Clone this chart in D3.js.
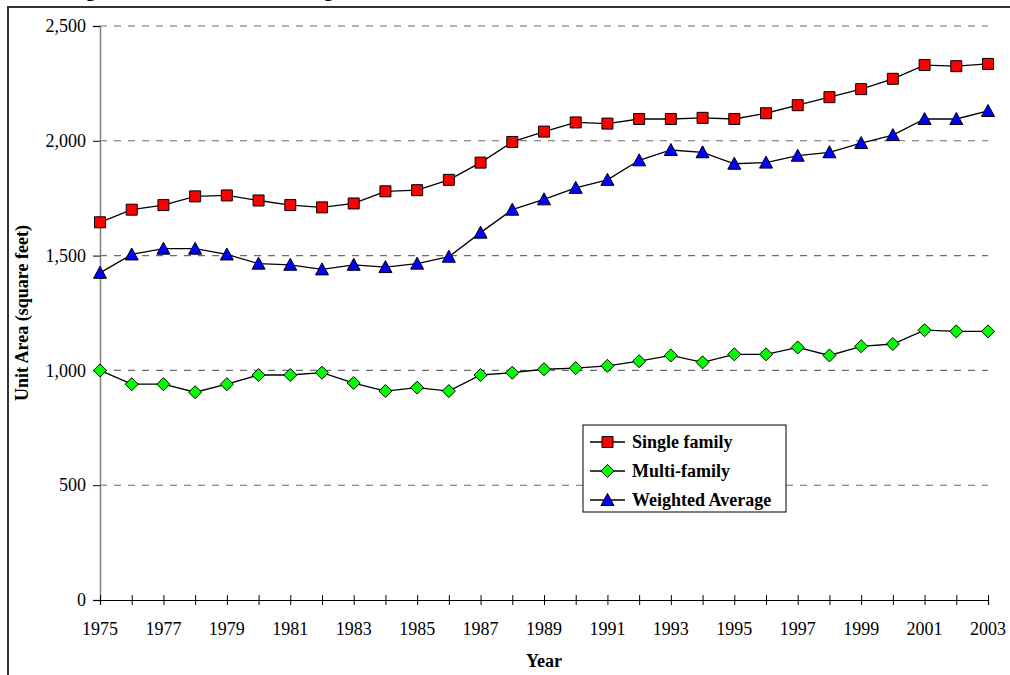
<!DOCTYPE html>
<html>
<head>
<meta charset="utf-8">
<script src="https://cdn.jsdelivr.net/npm/d3@7"></script>
<style>
  body { margin: 0; background: #fff; }
  svg { display: block; }
  svg text { font-family: "Liberation Serif", "Times New Roman", Times, serif; }
</style>
</head>
<body>
<svg id="chart" width="1010" height="675"></svg>
<script>
// Values
const years = d3.range(1975, 2004);
const singleFamily = [1645, 1700, 1720, 1758, 1762, 1740, 1720, 1710, 1727, 1780, 1785, 1830, 1905, 1995, 2040,
  2080, 2075, 2095, 2095, 2100, 2095, 2120, 2155, 2190, 2225, 2270, 2330, 2325, 2335];
const multiFamily = [1000, 940, 940, 905, 940, 980, 980, 990, 945, 910, 925, 910, 980, 990, 1005,
  1010, 1020, 1040, 1065, 1035, 1070, 1070, 1100, 1065, 1105, 1115, 1175, 1170, 1170];
const weightedAvg = [1425, 1505, 1530, 1530, 1505, 1465, 1460, 1440, 1460, 1450, 1465, 1495, 1600, 1700, 1745,
  1795, 1830, 1915, 1960, 1950, 1900, 1905, 1935, 1950, 1990, 2025, 2095, 2095, 2130];
const yTicks = [0, 500, 1000, 1500, 2000, 2500];
const xLabelYears = years.filter(y => (y - 1975) % 2 === 0);

const seriesNames = ['Single family', 'Multi-family', 'Weighted Average'];
const seriesColors = ['#ff0000', '#00ff00', '#0000ff'];
const seriesShapes = ['square', 'diamond', 'triangle'];

const svg = d3.select('#chart');
const x = d3.scaleLinear().domain([1975, 2003]).range([100, 988]);
const y = d3.scaleLinear().domain([0, 2500]).range([600, 26]);

// marker outlines, centred on 0,0
function markerPath(shape) {
  const p = d3.path();
  if (shape === 'square') {
    p.rect(-5.5, -5.5, 11, 11);
  } else if (shape === 'diamond') {
    p.moveTo(0, -6.5); p.lineTo(6.5, 0); p.lineTo(0, 6.5); p.lineTo(-6.5, 0); p.closePath();
  } else {
    p.moveTo(0, -6.5); p.lineTo(6.5, 5.5); p.lineTo(-6.5, 5.5); p.closePath();
  }
  return p.toString();
}

// outer chart frame (runs off the right and bottom edges)
svg.append('rect')
  .attr('x', 8).attr('y', 7)
  .attr('width', 1100).attr('height', 800)
  .attr('fill', 'none')
  .attr('stroke', '#333')
  .attr('stroke-width', 2);

// title, mostly above the top of the picture as in the reference
svg.append('text')
  .attr('x', 35).attr('y', -4)
  .attr('font-size', 20)
  .attr('font-weight', 'bold')
  .text('Average Unit Area of New Housing Units');

// gridlines
svg.append('g')
  .selectAll('line')
  .data(yTicks.filter(d => d > 0))
  .enter()
  .append('line')
  .attr('x1', x(1975)).attr('x2', x(2003))
  .attr('y1', d => y(d)).attr('y2', d => y(d))
  .attr('stroke', '#6a6a6a')
  .attr('stroke-width', 1.1)
  .attr('stroke-dasharray', '7,7');

// y axis
const yAxis = svg.append('g')
  .attr('transform', `translate(${x(1975)},0)`)
  .call(d3.axisLeft(y).tickValues(yTicks).tickSize(7).tickPadding(7).tickFormat(d3.format(',')));
yAxis.attr('font-family', null);
yAxis.select('.domain').attr('stroke', '#808080').attr('stroke-width', 1.5);
yAxis.selectAll('.tick line').attr('stroke', '#000');
yAxis.selectAll('text')
  .attr('font-size', 18)
  .attr('fill', '#000');

// x axis: a tick on every year crossing the line, labels every other year
const xAxis = svg.append('g')
  .attr('transform', `translate(0,${y(0)})`)
  .call(d3.axisBottom(x).tickValues(years).tickSize(5).tickFormat(''));
xAxis.select('.domain').attr('stroke', '#000').attr('stroke-width', 1.2);
xAxis.selectAll('.tick line').attr('y1', -5).attr('stroke', '#000');
svg.append('g')
  .selectAll('text')
  .data(xLabelYears)
  .enter()
  .append('text')
  .attr('x', d => x(d))
  .attr('y', 635)
  .attr('text-anchor', 'middle')
  .attr('font-size', 18)
  .text(d => d);

// axis titles
svg.append('text')
  .attr('x', (x(1975) + x(2003)) / 2)
  .attr('y', 667)
  .attr('text-anchor', 'middle')
  .attr('font-size', 18)
  .attr('font-weight', 'bold')
  .text('Year');
svg.append('text')
  .attr('transform', `translate(28,${(y(0) + y(2500)) / 2}) rotate(-90)`)
  .attr('text-anchor', 'middle')
  .attr('font-size', 18)
  .attr('font-weight', 'bold')
  .text('Unit Area (square feet)');

// series
const allSeries = [singleFamily, multiFamily, weightedAvg];
const line = d3.line()
  .x((d, i) => x(years[i]))
  .y(d => y(d));

allSeries.forEach((values, k) => {
  const g = svg.append('g').classed('series', true);
  g.append('path')
    .datum(values)
    .attr('d', line)
    .attr('fill', 'none')
    .attr('stroke', '#000')
    .attr('stroke-width', 1.3);
  g.selectAll('.marker')
    .data(values)
    .enter()
    .append('path')
    .classed('marker', true)
    .attr('transform', (d, i) => `translate(${x(years[i])},${y(d)})`)
    .attr('d', markerPath(seriesShapes[k]))
    .attr('fill', seriesColors[k])
    .attr('stroke', '#000')
    .attr('stroke-width', 1);
});

// legend
const legend = svg.append('g').attr('transform', 'translate(583,425)');
legend.append('rect')
  .attr('width', 203).attr('height', 87)
  .attr('fill', '#fff')
  .attr('stroke', '#000')
  .attr('stroke-width', 1);
const items = legend.selectAll('.item')
  .data(seriesNames)
  .enter()
  .append('g')
  .classed('item', true)
  .attr('transform', (d, i) => `translate(0,${17 + i * 29})`);
items.append('line')
  .attr('x1', 7).attr('x2', 42)
  .attr('stroke', '#000')
  .attr('stroke-width', 1.3);
items.append('path')
  .attr('transform', 'translate(24.5,0)')
  .attr('d', (d, i) => markerPath(seriesShapes[i]))
  .attr('fill', (d, i) => seriesColors[i])
  .attr('stroke', '#000');
items.append('text')
  .attr('x', 49).attr('y', 6)
  .attr('font-size', 18)
  .attr('font-weight', 'bold')
  .text(d => d);
</script>
</body>
</html>
